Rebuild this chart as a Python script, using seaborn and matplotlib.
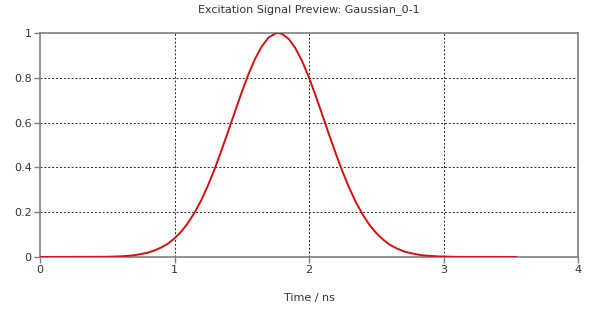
import matplotlib
matplotlib.use("Agg")
import matplotlib.pyplot as plt
import seaborn as sns
import pandas as pd

# Data
time_ns = [0.0, 0.5, 0.55, 0.6, 0.65, 0.7, 0.75, 0.8, 0.85, 0.9, 0.95,
           1.0, 1.05, 1.1, 1.15, 1.2, 1.25, 1.3, 1.35, 1.4, 1.45,
           1.5, 1.55, 1.6, 1.65, 1.7, 1.75, 1.77, 1.8, 1.85, 1.9, 1.95,
           2.0, 2.05, 2.1, 2.15, 2.2, 2.25, 2.3, 2.35, 2.4, 2.45,
           2.5, 2.55, 2.6, 2.65, 2.7, 2.75, 2.8, 2.85, 2.9, 2.95,
           3.0, 3.1, 3.54]
amplitude = [0.0, 0.001, 0.002, 0.003, 0.005, 0.008, 0.013, 0.019, 0.029, 0.042, 0.059,
             0.083, 0.113, 0.152, 0.199, 0.255, 0.321, 0.395, 0.477, 0.563, 0.650,
             0.736, 0.816, 0.886, 0.941, 0.980, 0.998, 1.0, 0.996, 0.973, 0.931, 0.873,
             0.801, 0.719, 0.633, 0.545, 0.460, 0.380, 0.307, 0.243, 0.189, 0.143,
             0.107, 0.078, 0.055, 0.039, 0.026, 0.018, 0.012, 0.007, 0.005, 0.003,
             0.002, 0.0005, 0.0]
x_ticks = [0, 1, 2, 3, 4]
y_ticks = [0, 0.2, 0.4, 0.6, 0.8, 1]
y_tick_labels = ["0", "0.2", "0.4", "0.6", "0.8", "1"]
title = "Excitation Signal Preview: Gaussian_0-1"
x_label = "Time / ns"

sns.set_style("white")
plt.rcParams["font.family"] = ["DejaVu Sans"]

df = pd.DataFrame({"t": time_ns, "a": amplitude})

fig = plt.figure(figsize=(6.0, 3.12), dpi=100)
ax = fig.add_axes([40 / 600, 55 / 312, 538 / 600, 224 / 312])

sns.lineplot(data=df, x="t", y="a", ax=ax, color="#d01010", linewidth=1.4, zorder=3)

ax.set_xlim(0, 4)
ax.set_ylim(0, 1)
ax.set_xticks(x_ticks)
ax.set_xticklabels([str(v) for v in x_ticks])
ax.set_yticks(y_ticks)
ax.set_yticklabels(y_tick_labels)

for v in x_ticks[1:-1]:
    ax.axvline(v, color="#222222", linestyle=(0, (2, 2)), linewidth=0.7, zorder=1)
for v in y_ticks[1:-1]:
    ax.axhline(v, color="#222222", linestyle=(0, (2, 2)), linewidth=0.7, zorder=1)

for s in ax.spines.values():
    s.set_color("#808080")
    s.set_linewidth(1.2)
    s.set_visible(True)

ax.tick_params(axis="both", which="both", direction="out", length=4, width=1,
               color="#808080", labelsize=8, labelcolor="#333333", pad=2,
               bottom=True, left=True)

ax.set_xlabel(x_label, fontsize=8, color="#333333", labelpad=13)
ax.set_ylabel("")
ax.set_title(title, fontsize=8, color="#333333", pad=15)

fig.savefig("out.png", dpi=100, facecolor="white")
